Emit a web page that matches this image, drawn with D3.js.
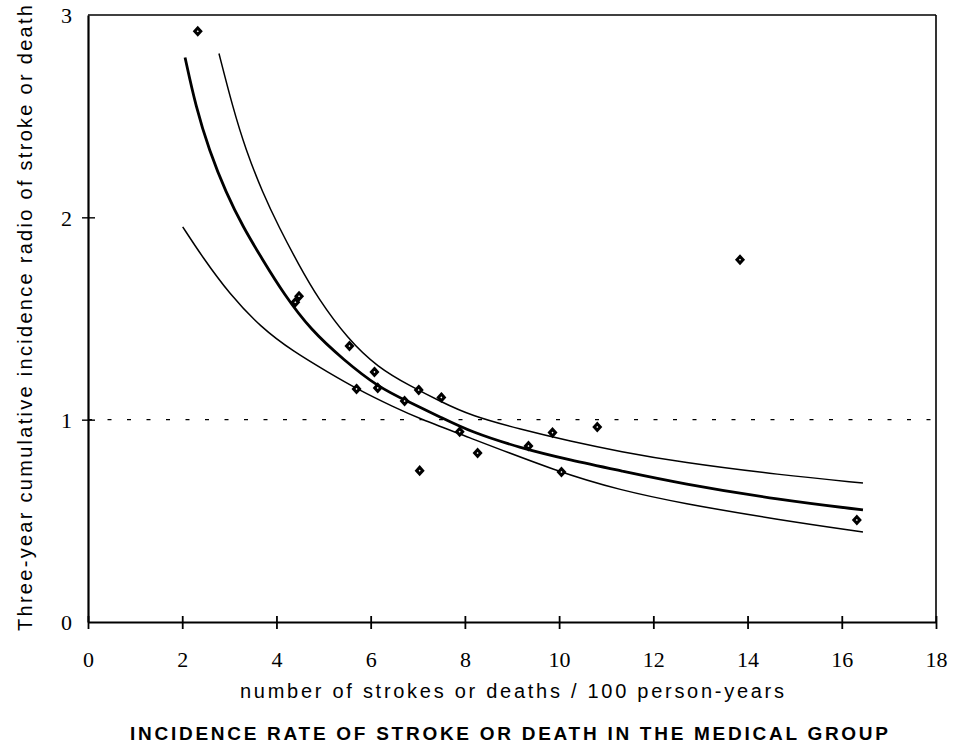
<!DOCTYPE html>
<html>
<head>
<meta charset="utf-8">
<script src="https://cdn.jsdelivr.net/npm/d3@7"></script>
<style>
  body { margin: 0; background: #fff; }
  svg { display: block; }
</style>
</head>
<body>
<div id="chart"></div>
<script>
// observed points
var pointX = [2.33, 4.40, 4.48, 5.55, 5.70, 6.08, 6.15, 6.72, 7.02, 7.04, 7.50, 7.89, 8.27, 9.35, 9.86, 10.05, 10.81, 13.84, 16.32];
var pointY = [2.92, 1.58, 1.61, 1.364, 1.152, 1.236, 1.157, 1.092, 1.147, 0.748, 1.11, 0.94, 0.835, 0.87, 0.936, 0.741, 0.964, 1.79, 0.504];

// fitted curve (thick) and its upper / lower bands
var fitX = [2.06, 2.29, 2.57, 2.93, 3.29, 3.71, 4.16, 4.73, 5.43, 6.15, 6.85, 7.48, 8.12, 9.18, 10.24, 11.3, 12.57, 14.69, 16.45];
var fitY = [2.79, 2.545, 2.333, 2.121, 1.953, 1.789, 1.62, 1.443, 1.295, 1.162, 1.083, 1.013, 0.94, 0.86, 0.80, 0.748, 0.685, 0.603, 0.554];

var upperX = [2.78, 3.07, 3.35, 3.71, 4.05, 4.47, 4.88, 5.51, 6.15, 6.85, 7.48, 8.12, 9.18, 10.24, 11.3, 12.57, 14.69, 16.45];
var upperY = [2.81, 2.546, 2.333, 2.12, 1.953, 1.767, 1.60, 1.40, 1.258, 1.165, 1.09, 1.02, 0.952, 0.893, 0.842, 0.79, 0.727, 0.687];

var lowerX = [2.01, 2.44, 2.99, 3.67, 4.37, 5.09, 5.72, 6.49, 7.06, 7.89, 10.03, 11.3, 12.57, 14.69, 16.45];
var lowerY = [1.953, 1.80, 1.625, 1.455, 1.335, 1.235, 1.15, 1.062, 1.003, 0.93, 0.737, 0.652, 0.588, 0.504, 0.445];

var xTicks = [0, 2, 4, 6, 8, 10, 12, 14, 16, 18];
var yTicks = [0, 1, 2, 3];
var refLine = 1;

var xTitle = "number of strokes or deaths / 100 person-years";
var yTitle = "Three-year cumulative incidence radio of stroke or death";
var caption = "INCIDENCE RATE OF STROKE OR DEATH IN THE MEDICAL GROUP";

// Set the dimensions
var width = 955, height = 752;
var margin = {top: 15, right: 19, bottom: 130, left: 88},
    plotRight = width - margin.right,
    plotBottom = height - margin.bottom;

var x = d3.scaleLinear().domain([0, 18]).range([margin.left, plotRight]);
var y = d3.scaleLinear().domain([0, 3]).range([plotBottom, margin.top]);

var svg = d3.select("#chart").append("svg")
    .attr("width", width)
    .attr("height", height);

function zip(xs, ys) {
    return xs.map(function(v, i) { return [v, ys[i]]; });
}

// frame: top and right
svg.append("line")
    .attr("x1", x(0)).attr("x2", x(18))
    .attr("y1", y(3)).attr("y2", y(3))
    .attr("stroke", "#000").attr("stroke-width", 1.6);
svg.append("line")
    .attr("x1", x(18)).attr("x2", x(18))
    .attr("y1", y(3)).attr("y2", y(0))
    .attr("stroke", "#000").attr("stroke-width", 1.6);

// reference line at 1
svg.append("line")
    .attr("x1", x(0)).attr("x2", x(18))
    .attr("y1", y(refLine)).attr("y2", y(refLine))
    .attr("stroke", "#000").attr("stroke-width", 1.2)
    .attr("stroke-dasharray", "4,15.5");

// axes
var xAxis = d3.axisBottom(x).tickValues(xTicks).tickSize(0).tickPadding(0).tickFormat(d3.format("d"));
var yAxis = d3.axisLeft(y).tickValues(yTicks).tickSize(0).tickPadding(0).tickFormat(d3.format("d"));

var gx = svg.append("g").attr("transform", "translate(0," + plotBottom + ")").call(xAxis);
gx.select(".domain").attr("stroke-width", 2);
gx.selectAll(".tick line").remove();
gx.selectAll(".tick").append("line")
    .attr("y1", -6).attr("y2", 7)
    .attr("stroke", "#000").attr("stroke-width", 1.8);
gx.selectAll(".tick text")
    .attr("y", 45)
    .attr("dy", null)
    .style("font-family", "'Liberation Serif', 'Times New Roman', serif")
    .style("font-size", "22px")
    .attr("fill", "#000");

var gy = svg.append("g").attr("transform", "translate(" + margin.left + ",0)").call(yAxis);
gy.select(".domain").attr("stroke-width", 2.2);
gy.selectAll(".tick line").remove();
gy.selectAll(".tick").filter(function(d) { return d > 0 && d < 3; }).append("line")
    .attr("x1", -6).attr("x2", 7)
    .attr("stroke", "#000").attr("stroke-width", 1.4);
gy.selectAll(".tick text")
    .attr("x", -16)
    .attr("dy", "0.35em")
    .style("font-family", "'Liberation Serif', 'Times New Roman', serif")
    .style("font-size", "22px")
    .attr("fill", "#000");

// curves
var line = d3.line()
    .x(function(d) { return x(d[0]); })
    .y(function(d) { return y(d[1]); })
    .curve(d3.curveBasis);

svg.append("path").datum(zip(upperX, upperY))
    .attr("d", line).attr("fill", "none")
    .attr("stroke", "#000").attr("stroke-width", 1.5);
svg.append("path").datum(zip(lowerX, lowerY))
    .attr("d", line).attr("fill", "none")
    .attr("stroke", "#000").attr("stroke-width", 1.5);
svg.append("path").datum(zip(fitX, fitY))
    .attr("d", line).attr("fill", "none")
    .attr("stroke", "#000").attr("stroke-width", 2.8);

// points
svg.append("g").selectAll("path")
    .data(zip(pointX, pointY))
    .enter().append("path")
    .attr("transform", function(d) { return "translate(" + x(d[0]) + "," + y(d[1]) + ")"; })
    .attr("d", "M0,-3.3L3,0L0,3.3L-3,0Z")
    .attr("fill", "#fff")
    .attr("stroke", "#000")
    .attr("stroke-width", 3);

// titles
svg.append("text")
    .attr("x", 512).attr("y", 698)
    .attr("text-anchor", "middle")
    .attr("textLength", 544)
    .style("font-family", "'Liberation Sans', Arial, sans-serif")
    .style("font-size", "20px")
    .text(xTitle);

svg.append("text")
    .attr("x", 509).attr("y", 740)
    .attr("text-anchor", "middle")
    .attr("textLength", 758)
    .style("font-family", "'Liberation Sans', Arial, sans-serif")
    .style("font-size", "19px")
    .style("font-weight", "bold")
    .text(caption);

svg.append("text")
    .attr("transform", "translate(32,318) rotate(-90)")
    .attr("text-anchor", "middle")
    .attr("textLength", 626)
    .style("font-family", "'Liberation Sans', Arial, sans-serif")
    .style("font-size", "20px")
    .text(yTitle);
</script>
</body>
</html>
